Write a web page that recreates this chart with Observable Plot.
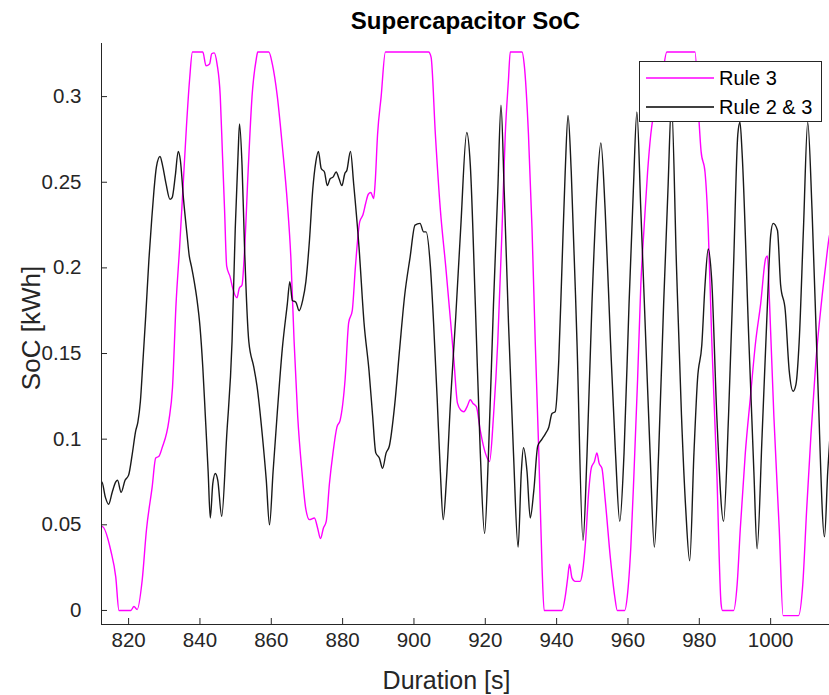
<!DOCTYPE html>
<html><head><meta charset="utf-8">
<script src="https://cdn.jsdelivr.net/npm/d3@7"></script>
<script src="https://cdn.jsdelivr.net/npm/@observablehq/plot@0.6"></script>
<style>
body{margin:0;background:#fff;}
#wrap{position:relative;width:829px;height:695px;font-family:"Liberation Sans",Arial,sans-serif;}
#legend{position:absolute;left:639px;top:61px;width:183px;height:61px;border:1px solid #262626;background:#fff;box-sizing:border-box;}
.row{position:absolute;left:0;height:24px;display:flex;align-items:center;font-size:20px;color:#000;white-space:nowrap;}
.row svg{margin-left:6px;margin-right:5px;}
</style>
</head><body>
<div id="wrap"><div id="chart"></div>
<div id="legend"></div></div>
<script>
const title = "Supercapacitor SoC";
const xLabel = "Duration [s]";
const yLabel = "SoC [kWh]";
const seriesNames = ["Rule 3", "Rule 2 & 3"];
const seriesColors = ["#ff00ff", "#000000"];
const xDomain = [812.4, 1016.5];
const yDomain = [-0.0082, 0.331];
const xTicks = [820, 840, 860, 880, 900, 920, 940, 960, 980, 1000];
const xTickLabels = ["820", "840", "860", "880", "900", "920", "940", "960", "980", "1000"];
const yTicks = [0, 0.05, 0.1, 0.15, 0.2, 0.25, 0.3];
const yTickLabels = ["0", "0.05", "0.1", "0.15", "0.2", "0.25", "0.3"];

// Rule 3 (magenta)
const rule3T = [811.7,812.6,815.0,816.4,817.3,820.6,821.5,822.4,823.8,825.0,826.6,827.6,828.5,829.4,831.3,832.3,833.3,834.3,835.2,836.2,837.1,837.9,840.8,841.7,842.7,843.3,844.0,844.8,845.7,846.3,846.9,847.5,848.5,849.2,850.4,851.0,851.8,852.5,853.5,854.6,855.8,856.2,859.3,860.3,861.7,863.1,864.5,865.5,866.4,867.4,868.6,869.7,870.7,872.1,873.0,873.8,874.6,875.4,876.3,877.3,878.4,879.3,880.7,881.7,882.7,883.6,884.8,885.7,886.5,887.2,887.9,888.7,889.1,889.8,890.8,892.0,904.1,904.8,906.0,907.4,908.9,910.3,911.2,912.2,913.1,914.0,914.9,915.8,916.5,917.5,918.6,920.0,921.2,922.3,923.5,924.7,925.6,926.5,927.0,930.3,930.9,932.1,933.1,934.0,935.0,935.9,936.5,941.5,942.4,943.1,943.6,944.3,945.2,946.6,947.3,948.1,949.0,949.7,950.6,951.3,951.9,952.7,953.6,955.1,956.3,957.0,959.1,959.8,960.8,961.7,962.7,963.6,964.5,965.5,966.4,967.1,969.5,970.9,978.8,979.8,980.5,981.6,982.5,983.5,984.9,986.1,986.5,989.6,990.6,991.5,992.9,994.3,995.8,997.2,998.6,999.1,999.7,1000.9,1002.4,1003.5,1007.8,1009.0,1010.1,1011.3,1012.7,1014.2,1015.4,1016.5,1017.0];
const rule3V = [0.040,0.049,0.035,0.0195,0.000,0.000,0.0023,0.0006,0.0175,0.047,0.072,0.089,0.090,0.095,0.111,0.130,0.179,0.212,0.245,0.282,0.310,0.326,0.326,0.318,0.319,0.325,0.3255,0.319,0.300,0.267,0.234,0.201,0.1945,0.188,0.1825,0.188,0.190,0.210,0.256,0.300,0.322,0.326,0.326,0.319,0.300,0.271,0.238,0.2055,0.157,0.1135,0.081,0.059,0.053,0.054,0.048,0.042,0.048,0.052,0.074,0.092,0.107,0.111,0.135,0.168,0.175,0.201,0.227,0.231,0.238,0.243,0.244,0.2405,0.249,0.278,0.300,0.326,0.326,0.323,0.278,0.234,0.201,0.168,0.146,0.121,0.117,0.116,0.119,0.123,0.121,0.119,0.105,0.092,0.087,0.1135,0.157,0.223,0.278,0.310,0.326,0.326,0.319,0.278,0.223,0.157,0.092,0.026,0.000,0.000,0.008,0.019,0.027,0.019,0.017,0.017,0.023,0.040,0.0697,0.083,0.087,0.092,0.086,0.083,0.065,0.030,0.008,0.000,0.000,0.008,0.037,0.081,0.135,0.190,0.223,0.256,0.278,0.289,0.310,0.326,0.326,0.290,0.268,0.256,0.223,0.157,0.081,0.004,0.000,0.000,0.015,0.048,0.092,0.124,0.157,0.179,0.2055,0.207,0.179,0.1135,0.048,-0.003,-0.003,0.015,0.059,0.1025,0.146,0.179,0.201,0.219,0.222];

// Rule 2 & 3 (black)
const rule23T = [812.0,812.5,813.5,814.4,815.4,816.4,816.9,817.9,819.0,820.0,821.0,822.0,822.6,823.3,824.0,824.8,825.7,826.5,827.1,827.8,828.8,829.5,830.5,831.6,832.2,833.1,833.9,834.5,835.4,836.4,837.0,837.6,838.4,839.2,840.0,840.8,841.5,842.3,842.9,843.6,844.3,845.0,846.1,847.5,849.0,849.9,850.7,851.1,851.8,852.5,853.7,855.1,856.0,857.5,858.6,859.5,860.5,861.7,863.1,864.5,865.2,865.9,866.9,867.8,868.8,869.7,870.7,871.6,872.5,873.2,874.0,874.9,875.7,876.5,877.3,878.2,879.0,879.8,880.6,881.2,882.2,883.1,884.6,886.0,887.4,888.4,889.3,890.3,891.2,892.2,893.1,894.6,896.0,897.4,898.9,900.3,901.7,902.7,903.4,904.6,905.5,906.5,907.4,908.2,909.1,910.3,911.7,913.1,914.8,915.8,917.2,918.6,919.8,920.9,922.3,923.5,924.4,925.3,926.5,927.9,929.2,930.1,930.7,931.7,932.6,933.6,934.7,935.9,936.8,937.8,938.7,939.6,940.6,941.5,942.4,943.2,944.1,945.7,947.4,948.5,949.9,951.3,952.4,953.6,955.1,956.5,957.7,958.9,960.3,961.5,962.5,963.6,965.0,966.2,967.4,968.6,970.0,971.2,972.2,973.6,975.0,976.2,977.3,978.5,979.5,980.7,981.6,982.5,983.5,984.9,986.8,988.2,989.6,990.8,991.4,992.0,993.9,995.3,996.2,997.6,999.1,1000.0,1000.7,1001.9,1002.8,1004.1,1005.2,1006.3,1007.1,1008.0,1009.2,1010.4,1011.6,1013.2,1015.1,1016.0,1017.0];
const rule23V = [0.074,0.075,0.066,0.062,0.069,0.075,0.076,0.069,0.076,0.079,0.091,0.105,0.110,0.122,0.145,0.172,0.205,0.229,0.245,0.259,0.265,0.260,0.249,0.240,0.241,0.254,0.268,0.263,0.240,0.219,0.207,0.201,0.192,0.181,0.166,0.142,0.114,0.081,0.054,0.074,0.080,0.076,0.055,0.102,0.157,0.223,0.267,0.284,0.260,0.212,0.157,0.142,0.131,0.102,0.076,0.050,0.081,0.116,0.153,0.179,0.192,0.181,0.180,0.175,0.181,0.192,0.216,0.245,0.262,0.268,0.258,0.256,0.248,0.252,0.253,0.256,0.252,0.248,0.255,0.257,0.268,0.249,0.212,0.168,0.140,0.114,0.092,0.089,0.083,0.092,0.096,0.120,0.153,0.184,0.206,0.225,0.226,0.221,0.221,0.201,0.168,0.124,0.081,0.053,0.076,0.124,0.171,0.223,0.279,0.260,0.179,0.092,0.045,0.092,0.179,0.245,0.295,0.245,0.168,0.092,0.037,0.081,0.095,0.081,0.054,0.070,0.096,0.100,0.103,0.107,0.115,0.116,0.146,0.201,0.256,0.289,0.256,0.157,0.041,0.090,0.179,0.245,0.273,0.234,0.157,0.092,0.052,0.092,0.179,0.245,0.291,0.234,0.157,0.092,0.037,0.092,0.179,0.245,0.296,0.201,0.114,0.059,0.029,0.092,0.135,0.155,0.190,0.211,0.192,0.114,0.052,0.114,0.201,0.278,0.285,0.267,0.157,0.081,0.036,0.102,0.179,0.219,0.226,0.222,0.190,0.175,0.140,0.128,0.132,0.157,0.223,0.285,0.234,0.135,0.043,0.081,0.114];

const rule3 = rule3T.map((t, i) => ({t, v: rule3V[i]}));
const rule23 = rule23T.map((t, i) => ({t, v: rule23V[i]}));
const axisColor = "#262626";

const chart = Plot.plot({
  width: 829, height: 695,
  marginLeft: 101, marginRight: 0, marginTop: 43, marginBottom: 71,
  x: {domain: xDomain},
  y: {domain: yDomain},
  style: {fontFamily: "'Liberation Sans', Arial, sans-serif", fontSize: "20px", color: axisColor, background: "white", overflow: "visible"},
  marks: [
    Plot.line(rule3, {x: "t", y: "v", stroke: seriesColors[0], strokeWidth: 1.4, curve: "monotone-x", clip: true}),
    Plot.line(rule23, {x: "t", y: "v", stroke: seriesColors[1], strokeWidth: 1.4, strokeOpacity: 0.9, curve: "monotone-x", clip: true}),
    Plot.ruleX([xDomain[0]], {stroke: axisColor, strokeWidth: 1}),
    Plot.ruleY([yDomain[0]], {stroke: axisColor, strokeWidth: 1}),
    Plot.axisX(xTicks, {anchor: "bottom", tickSize: -6, tickPadding: 14, label: null, fontSize: 20.5, stroke: axisColor, fill: axisColor,
      tickFormat: d => xTickLabels[xTicks.indexOf(d)]}),
    Plot.axisY(yTicks, {anchor: "left", tickSize: -6, tickPadding: 26, label: null, fontSize: 20.5, stroke: axisColor, fill: axisColor,
      tickFormat: d => yTickLabels[yTicks.indexOf(d)]}),
    Plot.text([title], {frameAnchor: "top", lineAnchor: "middle", textAnchor: "middle", dy: -22, fontWeight: "bold", fontSize: 24, fill: "#000"}),
    Plot.text([xLabel], {frameAnchor: "bottom", lineAnchor: "middle", textAnchor: "middle", dy: 56, dx: -19, fontSize: 25, fill: axisColor}),
    Plot.text([yLabel], {frameAnchor: "left", lineAnchor: "middle", textAnchor: "middle", dx: -70, dy: -6, rotate: -90, fontSize: 26, fill: axisColor})
  ]
});
document.getElementById("chart").appendChild(chart);

const legend = document.getElementById("legend");
seriesNames.forEach((name, i) => {
  const row = document.createElement("div");
  row.className = "row";
  row.style.top = (4 + i * 29) + "px";
  row.innerHTML = `<svg width="68" height="4"><line x1="0" y1="2" x2="68" y2="2" stroke="${seriesColors[i]}" stroke-width="1.4"/></svg><span>${name}</span>`;
  legend.appendChild(row);
});
</script>
</body></html>
